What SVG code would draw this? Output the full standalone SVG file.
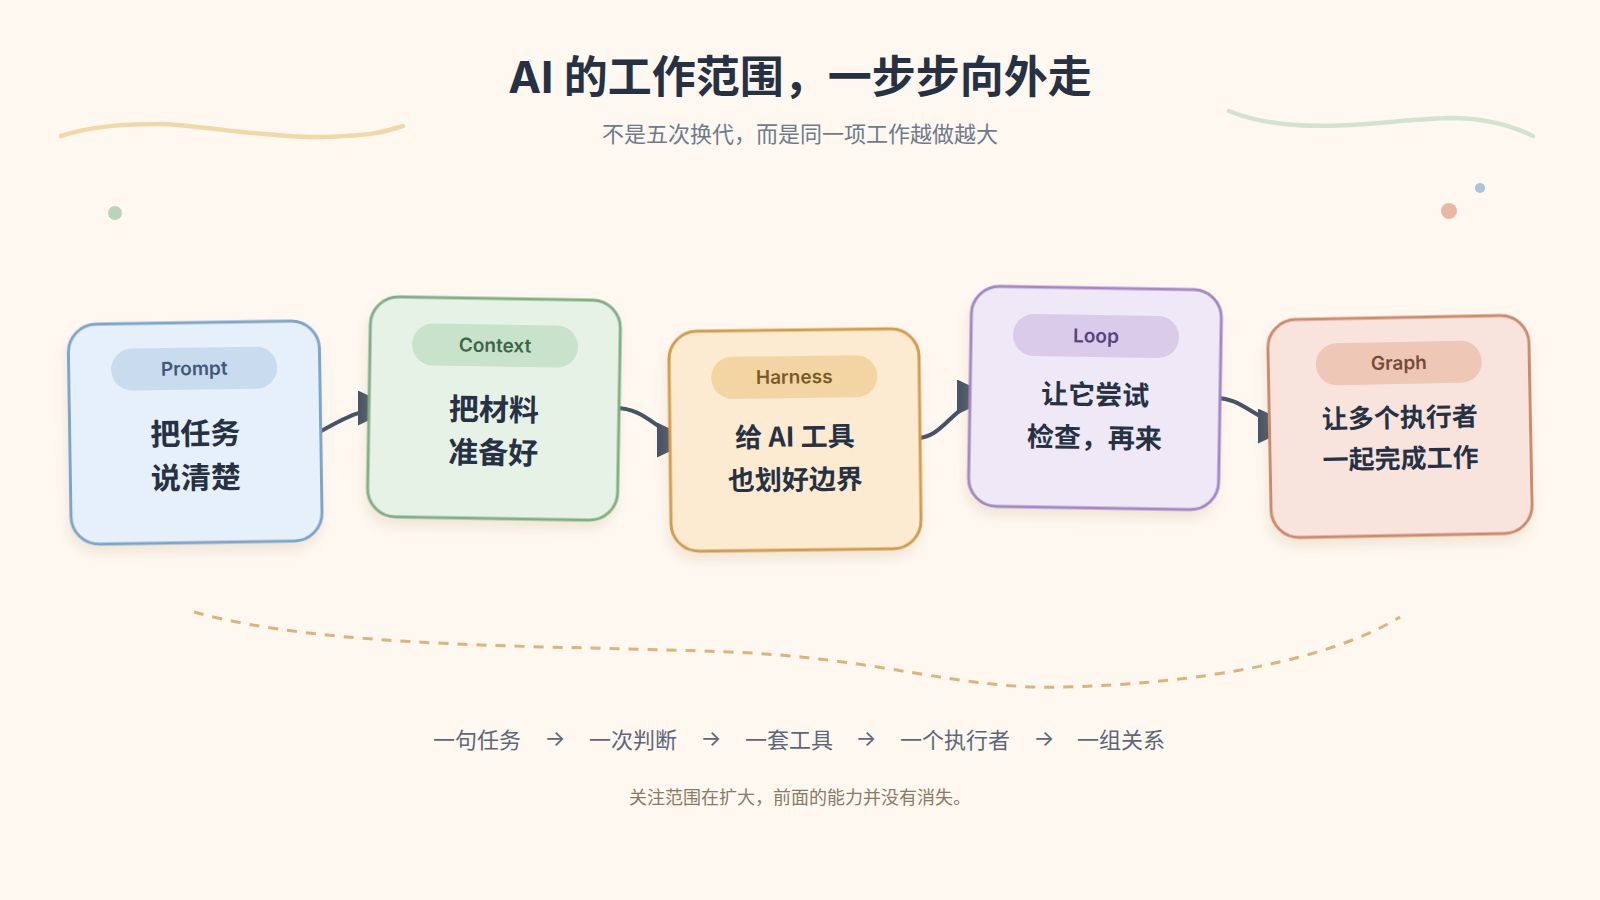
<svg xmlns="http://www.w3.org/2000/svg" width="1600" height="900" viewBox="0 0 1600 900">
  <defs>
    <filter id="shadow" x="-20%" y="-20%" width="140%" height="150%">
      <feDropShadow dx="-2" dy="8" stdDeviation="6" flood-color="#c8a878" flood-opacity="0.22"/>
    </filter>
    <marker id="arrow" viewBox="0 0 10 10" refX="10" refY="5" markerUnits="userSpaceOnUse" markerWidth="37" markerHeight="35" orient="auto" preserveAspectRatio="none">
      <path d="M0,0 L10,5 L0,10 z" fill="#465366"/>
    </marker>
    <style>
      .title { font-family: Inter, "Noto Sans CJK SC", sans-serif; font-weight: 700; font-size: 44px; fill: #263244; }
      .sub { font-family: "Noto Sans CJK SC", sans-serif; font-size: 22px; fill: #6f7a8c; }
      .box { stroke-width: 3; filter: url(#shadow); }
      .pilltxt { font-family: Inter, "Noto Sans CJK SC", sans-serif; font-weight: 600; font-size: 19px; }
      .main { font-family: "Noto Sans CJK SC", sans-serif; font-weight: 700; fill: #263244; }
      .conn { fill: none; stroke: #465366; stroke-width: 4; stroke-linecap: round; marker-end: url(#arrow); }
      .row { font-family: "Noto Sans CJK SC", sans-serif; font-size: 22px; fill: #5d6779; }
      .arr { font-family: Inter, "Noto Sans CJK SC", sans-serif; font-size: 22px; fill: #5d6779; }
      .foot { font-family: "Noto Sans CJK SC", sans-serif; font-size: 18px; fill: #8b7a66; }
      text { text-anchor: middle; dominant-baseline: central; }
    </style>
  </defs>

  <rect x="0" y="0" width="1600" height="900" fill="#fef8f1"/>

  <!-- decorations -->
  <g id="decor">
    <path d="M61 136 C95 125 130 124 160 124 S270 138 320 137 S385 132 403 126" fill="none" stroke="#f1d8a8" stroke-width="4.5" stroke-linecap="round"/>
    <path d="M1229 111 C1260 124 1300 127 1340 125.5 C1380 124 1420 118 1455 118 C1490 119 1515 127 1533 136" fill="none" stroke="#d3e3cf" stroke-width="4.5" stroke-linecap="round"/>
    <circle cx="115" cy="213" r="7" fill="#b9d4ba"/>
    <circle cx="1480" cy="188" r="5" fill="#a9c4dc"/>
    <circle cx="1449" cy="211" r="8" fill="#e8b9a0"/>
    <path d="M194 612 C330 650 560 645 730 652 C880 658 960 690 1062 687 C1200 684 1330 660 1400 617" fill="none" stroke="#dbb47a" stroke-width="3" stroke-dasharray="10 9"/>
  </g>

  <text class="title" x="800" y="77">AI 的工作范围，一步步向外走</text>
  <text class="sub" x="800" y="132">不是五次换代，而是同一项工作越做越大</text>

  <!-- connectors -->
  <g id="connectors">
    <path class="conn" d="M316 434 C345 418 360 408 395 408"/>
    <path class="conn" d="M612 408 C650 406 660 440 694 440"/>
    <path class="conn" d="M915 438 C945 440 955 397 994 397"/>
    <path class="conn" d="M1215 398 C1245 397 1258 426 1295 426"/>
  </g>

  <!-- nodes -->
  <g id="node-prompt" transform="translate(195.2 432.6) rotate(-0.9)">
    <rect class="box" x="-125.5" y="-110" width="251" height="220" rx="28" fill="#e6f0fa" stroke="#7ba5cc"/>
    <rect x="-83" y="-85" width="166" height="42" rx="21" fill="#c9dcee"/>
    <text class="pilltxt" x="0" y="-64" fill="#40597a">Prompt</text>
    <text class="main" x="0" y="-1" font-size="30">把任务</text>
    <text class="main" x="0" y="43" font-size="30">说清楚</text>
  </g>

  <g id="node-context" transform="translate(494 408.5) rotate(0.95)">
    <rect class="box" x="-125" y="-110" width="250" height="220" rx="28" fill="#e7f2e6" stroke="#80ae86"/>
    <rect x="-83" y="-84" width="166" height="42" rx="21" fill="#c9e2cb"/>
    <text class="pilltxt" x="0" y="-63" fill="#3d6646">Context</text>
    <text class="main" x="0" y="-1" font-size="30">把材料</text>
    <text class="main" x="0" y="42" font-size="30">准备好</text>
  </g>

  <g id="node-harness" transform="translate(795 440) rotate(-0.7)">
    <rect class="box" x="-125" y="-110" width="250" height="220" rx="28" fill="#fcebd0" stroke="#d39c4a"/>
    <rect x="-83" y="-84" width="166" height="42" rx="21" fill="#f2d5a3"/>
    <text class="pilltxt" x="0" y="-63" fill="#7a5a2a">Harness</text>
    <text class="main" x="0" y="-5" font-size="27">给 AI 工具</text>
    <text class="main" x="0" y="38" font-size="27">也划好边界</text>
  </g>

  <g id="node-loop" transform="translate(1095 398) rotate(0.95)">
    <rect class="box" x="-125" y="-110" width="250" height="220" rx="28" fill="#eee8f7" stroke="#a387c6"/>
    <rect x="-83" y="-83" width="166" height="42" rx="21" fill="#d9cbe9"/>
    <text class="pilltxt" x="0" y="-62" fill="#58427e">Loop</text>
    <text class="main" x="0" y="-5" font-size="27">让它尝试</text>
    <text class="main" x="0" y="38" font-size="27">检查，再来</text>
  </g>

  <g id="node-graph" transform="translate(1400 426.5) rotate(-1.1)">
    <rect class="box" x="-130.5" y="-109" width="261" height="218" rx="28" fill="#f8e4dc" stroke="#cf8a6c"/>
    <rect x="-83" y="-84.5" width="166" height="42" rx="21" fill="#efc7b6"/>
    <text class="pilltxt" x="0" y="-63.5" fill="#7a4a38">Graph</text>
    <text class="main" x="0" y="-11" font-size="26">让多个执行者</text>
    <text class="main" x="0" y="30" font-size="26">一起完成工作</text>
  </g>

  <!-- bottom row -->
  <g id="progression">
    <text class="row" x="477" y="738">一句任务</text>
    <text class="arr" x="555" y="738">→</text>
    <text class="row" x="633" y="738">一次判断</text>
    <text class="arr" x="711" y="738">→</text>
    <text class="row" x="789" y="738">一套工具</text>
    <text class="arr" x="866" y="738">→</text>
    <text class="row" x="955" y="738">一个执行者</text>
    <text class="arr" x="1044" y="738">→</text>
    <text class="row" x="1121" y="738">一组关系</text>
  </g>

  <text class="foot" x="800" y="796">关注范围在扩大，前面的能力并没有消失。</text>
</svg>
